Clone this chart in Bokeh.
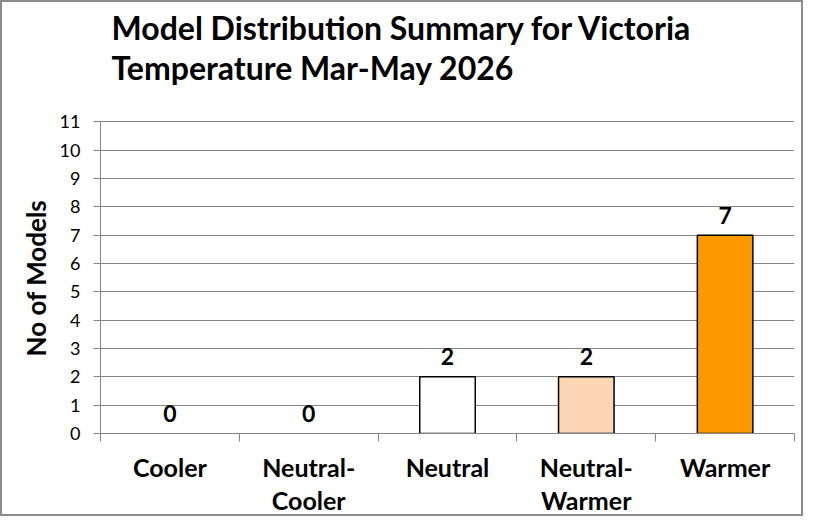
from bokeh.plotting import figure
from bokeh.models import Range1d, FixedTicker, ColumnDataSource, Title
from bokeh.embed import file_html
from bokeh.resources import INLINE
from bokeh.core.properties import value

categories = ["Cooler", "Neutral-\nCooler", "Neutral", "Neutral-\nWarmer", "Warmer"]
counts = [0, 0, 2, 2, 7]
colors = ["#FFFFFF", "#FFFFFF", "#FFFFFF", "#FCD5B5", "#FF9900"]
y_ticks = list(range(0, 12))
title_lines = ["Model Distribution Summary for Victoria", "Temperature Mar-May 2026"]
y_label = "No of Models"

FONT = "Lato"
GRID = "#868686"

# layout (pixels): the plot frame runs from the top of the canvas down to the x axis;
# the value axis (0..11) occupies the lower AXIS_PX pixels, the title sits above it.
FRAME_PX = 430
AXIS_PX = 311
y_top = y_ticks[-1] * FRAME_PX / AXIS_PX

xc = [i + 0.5 for i in range(len(categories))]
src = ColumnDataSource(dict(x=xc, top=counts, color=colors,
                            lbl=[str(c) for c in counts],
                            line=[("#000000" if c > 0 else None) for c in counts]))

p = figure(width=803, height=516, output_backend="svg", toolbar_location=None,
           x_range=Range1d(0, len(categories)), y_range=Range1d(0, y_top),
           min_border_left=98, min_border_right=11, min_border_top=0,
           min_border_bottom=82)
p.title = None
p.styles = {"border": "2px solid #8c8c8c", "box-sizing": "border-box"}
p.outline_line_color = None
p.background_fill_color = "white"
p.border_fill_color = "white"

# two-line title above the value axis
tsrc = ColumnDataSource(dict(x=[0] * len(title_lines), y=[y_ticks[-1]] * len(title_lines),
                             t=title_lines, off=[-94 + 40 * i for i in range(len(title_lines))]))
p.text(x="x", y="y", text="t", y_offset="off", x_offset=11, source=tsrc,
       text_align="left", text_baseline="alphabetic", text_font=value(FONT),
       text_font_size="32px", text_font_style="bold", text_color="black")

p.vbar(x="x", top="top", width=0.4, bottom=0, fill_color="color",
       line_color="line", line_width=1.5, source=src)
p.text(x="x", y="top", text="lbl", source=src, text_align="center",
       text_baseline="alphabetic", y_offset=-20, text_font=value(FONT),
       text_font_size="23px", text_font_style="bold", text_color="black")

# y axis
p.yaxis.ticker = FixedTicker(ticks=y_ticks)
p.yaxis.bounds = (y_ticks[0], y_ticks[-1])
p.yaxis.major_label_text_font = FONT
p.yaxis.major_label_text_font_size = "18px"
p.yaxis.major_label_text_color = "black"
p.yaxis.major_label_standoff = 13
p.yaxis.major_tick_out = 7
p.yaxis.major_tick_in = 0
p.yaxis.minor_tick_line_color = None
p.yaxis.axis_line_color = GRID
p.yaxis.major_tick_line_color = GRID

# y axis title, placed alongside the 0..11 part of the axis
p.add_layout(Title(text=y_label, align="left", offset=77, standoff=10,
                   text_font=FONT, text_font_size="26px", text_font_style="bold",
                   text_color="black"), "left")

# x axis: labels at category centres, tick marks at category boundaries
p.xaxis.ticker = FixedTicker(ticks=xc, minor_ticks=list(range(len(categories) + 1)))
p.xaxis.major_label_overrides = {x: c for x, c in zip(xc, categories)}
p.xaxis.major_tick_line_color = None
p.xaxis.major_tick_out = 0
p.xaxis.minor_tick_out = 8
p.xaxis.minor_tick_in = 0
p.xaxis.minor_tick_line_color = GRID
p.xaxis.axis_line_color = GRID
p.xaxis.major_label_text_font = FONT
p.xaxis.major_label_text_font_size = "25px"
p.xaxis.major_label_text_font_style = "bold"
p.xaxis.major_label_text_color = "black"
p.xaxis.major_label_text_line_height = 1.12
p.xaxis.major_label_standoff = 10

p.xgrid.grid_line_color = None
p.ygrid.ticker = FixedTicker(ticks=y_ticks)
p.ygrid.grid_line_color = GRID
p.ygrid.grid_line_width = 1

open("out.html", "w").write(file_html(p, INLINE))
